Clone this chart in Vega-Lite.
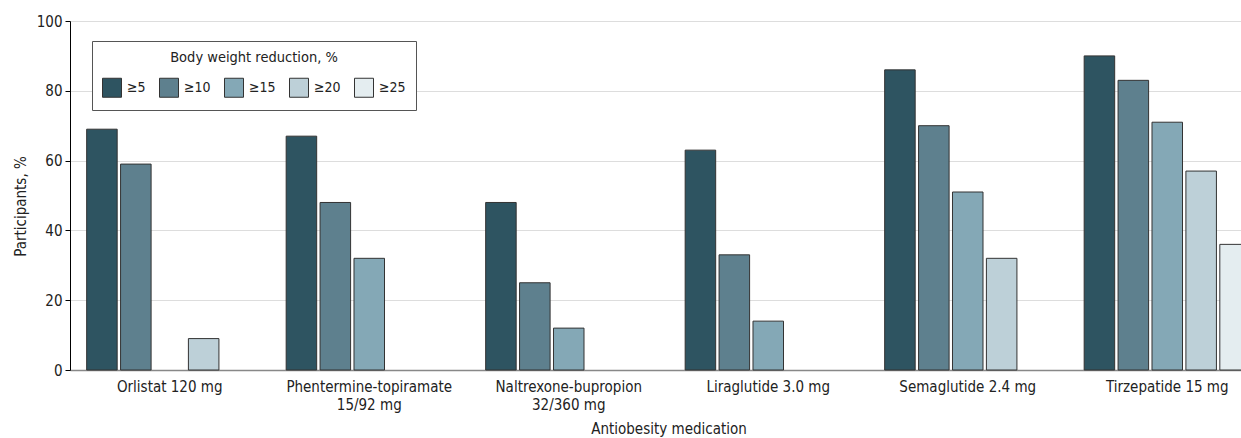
{
  "$schema": "https://vega.github.io/schema/vega-lite/v6.json",
  "autosize": {"type": "none"},
  "padding": {"left": 70, "top": 21, "right": 0, "bottom": 68},
  "width": 1171,
  "height": 349,
  "background": "white",
  "config": {
    "font": "Liberation Sans Narrow, DejaVu Sans Condensed, sans-serif",
    "view": {"stroke": null},
    "axis": {"labelFont": "Liberation Sans Narrow, DejaVu Sans Condensed, sans-serif", "titleFont": "Liberation Sans Narrow, DejaVu Sans Condensed, sans-serif", "labelFontSize": 15, "titleFontSize": 15, "titleFontWeight": "normal", "labelColor": "#222", "titleColor": "#222"},
    "legend": {"labelFont": "Liberation Sans Narrow, DejaVu Sans Condensed, sans-serif", "titleFont": "Liberation Sans Narrow, DejaVu Sans Condensed, sans-serif"}
  },
  "data": {
    "values": [
      {"medication": "Orlistat 120 mg", "threshold": "≥5", "value": 69},
      {"medication": "Orlistat 120 mg", "threshold": "≥10", "value": 59},
      {"medication": "Orlistat 120 mg", "threshold": "≥20", "value": 9},
      {"medication": "Phentermine-topiramate|15/92 mg", "threshold": "≥5", "value": 67},
      {"medication": "Phentermine-topiramate|15/92 mg", "threshold": "≥10", "value": 48},
      {"medication": "Phentermine-topiramate|15/92 mg", "threshold": "≥15", "value": 32},
      {"medication": "Naltrexone-bupropion|32/360 mg", "threshold": "≥5", "value": 48},
      {"medication": "Naltrexone-bupropion|32/360 mg", "threshold": "≥10", "value": 25},
      {"medication": "Naltrexone-bupropion|32/360 mg", "threshold": "≥15", "value": 12},
      {"medication": "Liraglutide 3.0 mg", "threshold": "≥5", "value": 63},
      {"medication": "Liraglutide 3.0 mg", "threshold": "≥10", "value": 33},
      {"medication": "Liraglutide 3.0 mg", "threshold": "≥15", "value": 14},
      {"medication": "Semaglutide 2.4 mg", "threshold": "≥5", "value": 86},
      {"medication": "Semaglutide 2.4 mg", "threshold": "≥10", "value": 70},
      {"medication": "Semaglutide 2.4 mg", "threshold": "≥15", "value": 51},
      {"medication": "Semaglutide 2.4 mg", "threshold": "≥20", "value": 32},
      {"medication": "Tirzepatide 15 mg", "threshold": "≥5", "value": 90},
      {"medication": "Tirzepatide 15 mg", "threshold": "≥10", "value": 83},
      {"medication": "Tirzepatide 15 mg", "threshold": "≥15", "value": 71},
      {"medication": "Tirzepatide 15 mg", "threshold": "≥20", "value": 57},
      {"medication": "Tirzepatide 15 mg", "threshold": "≥25", "value": 36}
    ]
  },
  "mark": {"type": "bar", "stroke": "#333", "strokeWidth": 1},
  "encoding": {
    "x": {
      "field": "medication",
      "type": "nominal",
      "scale": {
        "domain": ["Orlistat 120 mg", "Phentermine-topiramate|15/92 mg", "Naltrexone-bupropion|32/360 mg", "Liraglutide 3.0 mg", "Semaglutide 2.4 mg", "Tirzepatide 15 mg"],
        "range": [0, 1197],
        "paddingInner": 0.15,
        "paddingOuter": 0.075
      },
      "axis": {
        "title": "Antiobesity medication",
        "labelAngle": 0,
        "labelExpr": "split(datum.value, '|')",
        "labelLineHeight": 18,
        "ticks": false,
        "labelPadding": 9,
        "domainColor": "#888",
        "domainWidth": 1.5,
        "titlePadding": 9
      }
    },
    "xOffset": {
      "field": "threshold",
      "type": "nominal",
      "scale": {"domain": ["≥5", "≥10", "≥15", "≥20", "≥25"], "paddingInner": 0.1, "paddingOuter": 0.05}
    },
    "y": {
      "field": "value",
      "type": "quantitative",
      "scale": {"domain": [0, 100]},
      "axis": {
        "title": "Participants, %",
        "values": [0, 20, 40, 60, 80, 100],
        "domainColor": "#000",
        "tickColor": "#000",
        "tickSize": 5,
        "labelPadding": 3,
        "gridColor": "#ddd",
        "titleX": -42,
        "titleY": 185
      }
    },
    "color": {
      "field": "threshold",
      "type": "nominal",
      "scale": {"domain": ["≥5", "≥10", "≥15", "≥20", "≥25"], "range": ["#2e5461", "#5e808e", "#84a8b6", "#bdd0d8", "#e4edf0"]},
      "legend": {
        "title": "Body weight reduction, %",
        "orient": "none",
        "legendX": 22,
        "legendY": 20,
        "direction": "horizontal",
        "columns": 5,
        "titleAnchor": "middle",
        "titleFontSize": 14.5,
        "titleFontWeight": "normal",
        "titleColor": "#222",
        "titlePadding": 12,
        "labelFontSize": 14,
        "labelColor": "#222",
        "labelOffset": 5,
        "symbolType": "square",
        "symbolSize": 361,
        "symbolStrokeColor": "#333",
        "symbolStrokeWidth": 1,
        "symbolOpacity": 1,
        "columnPadding": 11,
        "padding": 10,
        "strokeColor": "#555",
        "fillColor": "white"
      }
    }
  }
}
